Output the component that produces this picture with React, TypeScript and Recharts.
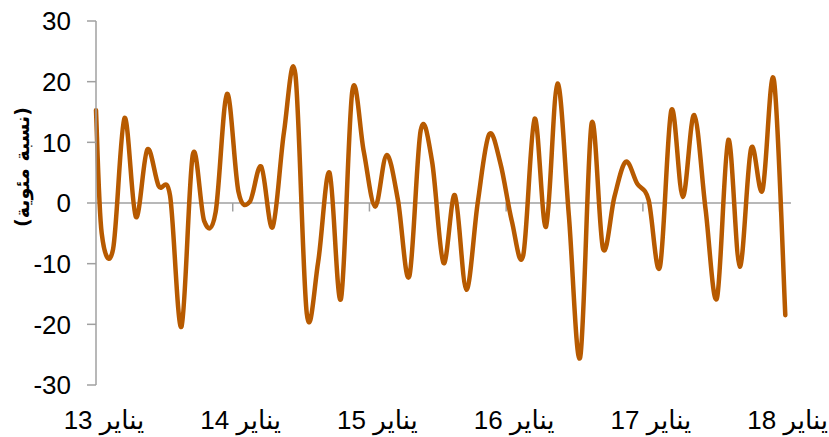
import { LineChart, Line, XAxis, YAxis, ReferenceLine, Label } from "recharts";

// x positions are months counted from 1 Jan 2013; monthly readings sit mid-month
const xTicks = [0, 12, 24, 36, 48, 60];
const tickLabels = ["يناير 13", "يناير 14", "يناير 15", "يناير 16", "يناير 17", "يناير 18"];
const yTicks = [-30, -20, -10, 0, 10, 20, 30];

const startValue = 15.3;
const monthlyValues = [
  -5, -7.6, 14.0, -2.3, 8.8, 2.8, 1.2, -20.4, 8.0, -3.0, -1.5, 18.0,
  1.9, 0.2, 6.0, -4.0, 11.7, 21.2, -18.2, -9.7, 5.0, -15.8, 18.5, 8.5,
  -0.6, 7.9, 0.5, -12.1, 12.0, 6.8, -9.9, 1.3, -14.3, 0, 11.3, 6.5,
  -3, -8.6, 13.9, -3.9, 19.7, -2, -25.4, 13.1, -7.5, 1, 6.8, 3.2,
  0.5, -10.5, 15.3, 1.0, 14.5, -1, -15.7, 10.4, -10.5, 9.0, 2.1, 20.3,
  -18.5,
];

const data = [
  { m: 0, v: startValue },
  ...monthlyValues.map((v, i) => ({ m: i + 0.5, v })),
];

const AXIS = "#A0A0A0";
const ORANGE = "#B75A00";
const FONT = "'Liberation Sans', Arial, 'DejaVu Sans', sans-serif";

// Excel-style smoothed line (Catmull-Rom through every point)
function smoothCurve(context: any) {
  let pts: number[][] = [];
  return {
    areaStart() {},
    areaEnd() {},
    lineStart() {
      pts = [];
    },
    point(x: number, y: number) {
      pts.push([+x, +y]);
    },
    lineEnd() {
      const n = pts.length;
      if (!n) return;
      context.moveTo(pts[0][0], pts[0][1]);
      for (let i = 0; i < n - 1; i++) {
        const p0 = pts[Math.max(i - 1, 0)];
        const p1 = pts[i];
        const p2 = pts[i + 1];
        const p3 = pts[Math.min(i + 2, n - 1)];
        context.bezierCurveTo(
          p1[0] + (p2[0] - p0[0]) / 6,
          p1[1] + (p2[1] - p0[1]) / 6,
          p2[0] - (p3[0] - p1[0]) / 6,
          p2[1] - (p3[1] - p1[1]) / 6,
          p2[0],
          p2[1]
        );
      }
    },
  };
}

const YTitle = (props: any) => {
  const { viewBox } = props;
  const cx = viewBox.x + 22;
  const cy = viewBox.y + 146;
  return (
    <text
      x={cx}
      y={cy}
      transform={`rotate(-90 ${cx} ${cy})`}
      textAnchor="middle"
      dominantBaseline="central"
      fontFamily="'DejaVu Sans', sans-serif"
      fontWeight="bold"
      fontSize={19}
      fill="#000"
    >
      (نسبة مئوية)
    </text>
  );
};

export default function App() {
  return (
    <div style={{ position: "absolute", left: 0, top: 0, background: "#fff" }}>
      <LineChart
        width={829}
        height={437}
        data={data}
        margin={{ top: 21, right: 38, bottom: 0, left: 0 }}
      >
        <XAxis
          type="number"
          dataKey="m"
          domain={[0, 61]}
          ticks={xTicks}
          tickFormatter={(t: number) => tickLabels[xTicks.indexOf(t)]}
          axisLine={false}
          tickLine={false}
          tickSize={0}
          tickMargin={26}
          height={52}
          interval={0}
          tick={{ fontSize: 26, fill: "#000", fontFamily: FONT, dx: 8 }}
        />
        <YAxis
          type="number"
          domain={[-30, 30]}
          ticks={yTicks}
          width={96}
          interval={0}
          axisLine={{ stroke: AXIS, strokeWidth: 1.5 }}
          tickLine={{ stroke: AXIS, strokeWidth: 1.5 }}
          tickSize={9}
          tickMargin={16}
          tick={{ fontSize: 26, fill: "#000", fontFamily: FONT }}
        >
          <Label content={YTitle} />
        </YAxis>
        <ReferenceLine y={0} stroke={AXIS} strokeWidth={1.5} />
        {xTicks.slice(1).map((t) => (
          <ReferenceLine
            key={t}
            segment={[
              { x: t, y: 0 },
              { x: t, y: -1.4 },
            ]}
            stroke={AXIS}
            strokeWidth={1.5}
          />
        ))}
        <Line
          type={smoothCurve as any}
          dataKey="v"
          stroke={ORANGE}
          strokeWidth={4.5}
          dot={false}
          activeDot={false}
          isAnimationActive={false}
          strokeLinecap="round"
          strokeLinejoin="round"
        />
      </LineChart>
    </div>
  );
}
